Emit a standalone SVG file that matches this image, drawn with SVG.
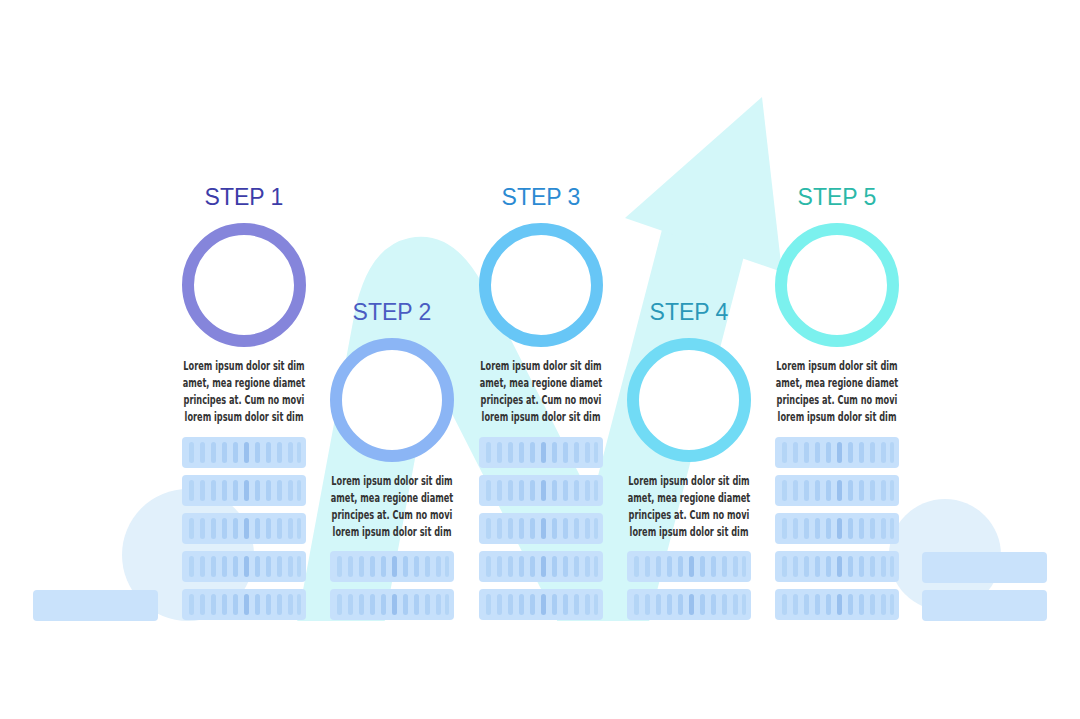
<svg xmlns="http://www.w3.org/2000/svg" xmlns:xlink="http://www.w3.org/1999/xlink" width="1080" height="719" viewBox="0 0 1080 719">
<style>
.lab{font-family:"Liberation Sans",Arial,sans-serif;font-size:23px;text-anchor:middle}
.txt{font-family:"DejaVu Sans Condensed","DejaVu Sans",sans-serif;font-weight:bold;font-size:12.5px;fill:#333;text-anchor:middle}
.ring{fill:#fff;stroke-width:12}
.bar{fill:#c9e2fb}
</style>
<defs>
<clipPath id="cut"><rect x="0" y="0" width="1080" height="621"/></clipPath>
<g id="coin">
<rect x="0" y="0" width="124" height="31" rx="4" fill="#c6e0fb"/>
<g fill="#a9cdf4">
<rect x="7" y="5" width="5" height="21" rx="2.5" opacity="0.6"/>
<rect x="18" y="5" width="5" height="21" rx="2.5" opacity="0.7"/>
<rect x="29" y="5" width="5" height="21" rx="2.5" opacity="0.8"/>
<rect x="40" y="5" width="5" height="21" rx="2.5" opacity="0.9"/>
<rect x="51" y="5" width="5" height="21" rx="2.5"/>
<rect x="62" y="5" width="5" height="21" rx="2.5" fill="#99c0ee"/>
<rect x="73" y="5" width="5" height="21" rx="2.5"/>
<rect x="84" y="5" width="5" height="21" rx="2.5" opacity="0.9"/>
<rect x="95" y="5" width="5" height="21" rx="2.5" opacity="0.8"/>
<rect x="106" y="5" width="5" height="21" rx="2.5" opacity="0.7"/>
<rect x="115" y="5" width="4" height="21" rx="2" opacity="0.6"/>
</g>
</g>
</defs>
<rect width="1080" height="719" fill="#fff"/>
<g id="background">
<circle cx="188" cy="555" r="66" fill="#e1f0fb"/>
<circle cx="945" cy="555" r="56" fill="#e1f0fb"/>
<path clip-path="url(#cut)" d="M330 680 L398 315 Q415 250 445 305 L605 620 L705 235" fill="none" stroke="#d3f7f9" stroke-width="86" stroke-linejoin="round"/>
<polygon points="625,218 762,97 782,272" fill="#d3f7f9"/>
<rect x="33" y="590" width="125" height="31" rx="4" class="bar"/>
<rect x="922" y="552" width="125" height="31" rx="4" class="bar"/>
<rect x="922" y="590" width="125" height="31" rx="4" class="bar"/>
</g>
<g id="connectors"></g>
<g id="stacks">
<use xlink:href="#coin" x="182" y="437"/><use xlink:href="#coin" x="182" y="475"/><use xlink:href="#coin" x="182" y="513"/><use xlink:href="#coin" x="182" y="551"/><use xlink:href="#coin" x="182" y="589"/>
<use xlink:href="#coin" x="330" y="551"/><use xlink:href="#coin" x="330" y="589"/>
<use xlink:href="#coin" x="479" y="437"/><use xlink:href="#coin" x="479" y="475"/><use xlink:href="#coin" x="479" y="513"/><use xlink:href="#coin" x="479" y="551"/><use xlink:href="#coin" x="479" y="589"/>
<use xlink:href="#coin" x="627" y="551"/><use xlink:href="#coin" x="627" y="589"/>
<use xlink:href="#coin" x="775" y="437"/><use xlink:href="#coin" x="775" y="475"/><use xlink:href="#coin" x="775" y="513"/><use xlink:href="#coin" x="775" y="551"/><use xlink:href="#coin" x="775" y="589"/>
</g>
<g id="step1">
<text class="lab" x="244" y="205" fill="#3c3ca8">STEP 1</text>
<circle class="ring" cx="244" cy="285" r="56" stroke="#8585db"/>
<text class="txt" transform="translate(244 370) scale(0.73 1)"><tspan x="0">Lorem ipsum dolor sit dim</tspan><tspan x="0" dy="17">amet, mea regione diamet</tspan><tspan x="0" dy="17">principes at. Cum no movi</tspan><tspan x="0" dy="17">lorem ipsum dolor sit dim</tspan></text>
</g>
<g id="step2">
<text class="lab" x="392" y="320" fill="#4a5cc2">STEP 2</text>
<circle class="ring" cx="392" cy="400" r="56" stroke="#8bb5f5"/>
<text class="txt" transform="translate(392 485) scale(0.73 1)"><tspan x="0">Lorem ipsum dolor sit dim</tspan><tspan x="0" dy="17">amet, mea regione diamet</tspan><tspan x="0" dy="17">principes at. Cum no movi</tspan><tspan x="0" dy="17">lorem ipsum dolor sit dim</tspan></text>
</g>
<g id="step3">
<text class="lab" x="541" y="205" fill="#2b8ad2">STEP 3</text>
<circle class="ring" cx="541" cy="285" r="56" stroke="#67c6f6"/>
<text class="txt" transform="translate(541 370) scale(0.73 1)"><tspan x="0">Lorem ipsum dolor sit dim</tspan><tspan x="0" dy="17">amet, mea regione diamet</tspan><tspan x="0" dy="17">principes at. Cum no movi</tspan><tspan x="0" dy="17">lorem ipsum dolor sit dim</tspan></text>
</g>
<g id="step4">
<text class="lab" x="689" y="320" fill="#2a98b8">STEP 4</text>
<circle class="ring" cx="689" cy="400" r="56" stroke="#71dbf5"/>
<text class="txt" transform="translate(689 485) scale(0.73 1)"><tspan x="0">Lorem ipsum dolor sit dim</tspan><tspan x="0" dy="17">amet, mea regione diamet</tspan><tspan x="0" dy="17">principes at. Cum no movi</tspan><tspan x="0" dy="17">lorem ipsum dolor sit dim</tspan></text>
</g>
<g id="step5">
<text class="lab" x="837" y="205" fill="#2bb8a8">STEP 5</text>
<circle class="ring" cx="837" cy="285" r="56" stroke="#7bf1ee"/>
<text class="txt" transform="translate(837 370) scale(0.73 1)"><tspan x="0">Lorem ipsum dolor sit dim</tspan><tspan x="0" dy="17">amet, mea regione diamet</tspan><tspan x="0" dy="17">principes at. Cum no movi</tspan><tspan x="0" dy="17">lorem ipsum dolor sit dim</tspan></text>
</g>
</svg>
